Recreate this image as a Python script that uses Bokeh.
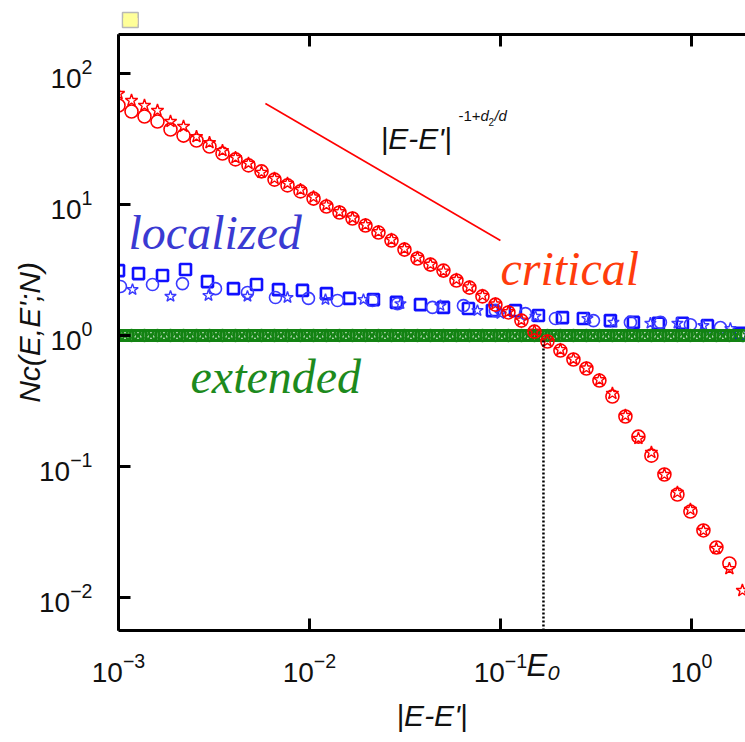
from bokeh.plotting import figure
from bokeh.models import LogAxis, Label, FixedTicker, Title
from bokeh.embed import file_html
from bokeh.resources import INLINE

# ---------------- data ----------------
# common x grid of the critical / extended series
grid_x = [0.001000, 0.001170, 0.001368, 0.001600, 0.001872, 0.002190, 0.002561, 0.002996,
          0.003504, 0.004099, 0.004794, 0.005608, 0.006559, 0.007672, 0.008974, 0.01050,
          0.01227, 0.01436, 0.01680, 0.01965, 0.02298, 0.02688, 0.03144, 0.03677,
          0.04301, 0.05031, 0.05884, 0.06883, 0.08051, 0.09414, 0.1101, 0.1288,
          0.1507, 0.1762, 0.2061, 0.2411, 0.2820, 0.3298, 0.3858, 0.4513,
          0.5279, 0.6174, 0.7222, 0.8448, 0.9881, 1.156, 1.352, 1.581, 1.849]

critical_circle_y = [57.0, 51.3, 47.0, 43.0, 37.4, 33.6, 30.8, 27.7, 24.5, 22.1, 19.9, 17.9,
                     15.5, 14.0, 12.6, 11.1, 9.66, 8.69, 7.82, 6.91, 6.11, 5.31, 4.53, 3.87,
                     3.48, 3.13, 2.63, 2.32, 1.99, 1.72, 1.50, 1.30, 1.07, 0.90, 0.768, 0.656,
                     0.560, 0.453, 0.342, 0.241, 0.169, 0.121, 0.0869, 0.0611, 0.0453, 0.0325,
                     0.0241, 0.0182]
critical_star_y = [70.3, 62.2, 57.0, 52.2, 43.0, 39.4, 33.0, 29.7, 25.8, 22.8, 20.6, 17.6,
                   15.8, 14.5, 13.0, 11.4, 9.9, 8.8, 7.9, 7.0, 6.2, 5.4, 4.6, 3.95,
                   3.5, 3.1, 2.68, 2.35, 2.02, 1.74, 1.52, 1.31, 1.08, 0.91, 0.78, 0.66,
                   0.565, 0.46, 0.361, 0.245, 0.164, 0.128, 0.0869, 0.0633, 0.0470, 0.0325,
                   0.0237, 0.0166, 0.0113]

# extended: squares sit half-way between the circle/star positions
ext_sq_x = [0.001082, 0.001265, 0.001479, 0.001730, 0.002024, 0.002368, 0.002770, 0.003240,
            0.003790, 0.004433, 0.005185, 0.006065, 0.007094, 0.008297, 0.009705, 0.01135,
            0.01327, 0.01553, 0.01817, 0.02125, 0.02485, 0.02907, 0.03400, 0.03977,
            0.04651, 0.05441, 0.06364, 0.07444, 0.08707, 0.1018, 0.1191, 0.1393,
            0.1630, 0.1906, 0.2229, 0.2608, 0.3050, 0.3567, 0.4173, 0.4881,
            0.5709, 0.6677, 0.7810, 0.9136, 1.069, 1.250, 1.462, 1.710]
ext_level = 1.0

# localized
loc_sq_x = [0.001000, 0.001273, 0.001700, 0.002243, 0.002924, 0.004000, 0.005280, 0.006883,
            0.009191, 0.01227, 0.01620, 0.02163, 0.02854, 0.03814, 0.05031, 0.06800,
            0.09081, 0.1198, 0.1581, 0.2112, 0.2720, 0.3766, 0.4969, 0.6717,
            0.8974, 1.213, 1.805]
loc_sq_y = [3.13, 2.97, 2.87, 3.19, 2.58, 2.28, 2.45, 2.24, 2.21, 2.09, 1.92, 1.88,
            1.79, 1.72, 1.64, 1.61, 1.55, 1.55, 1.42, 1.37, 1.35, 1.30, 1.26, 1.24,
            1.24, 1.19, 1.04]
loc_ci_x = [0.001024, 0.001507, 0.002163, 0.003220, 0.004735, 0.006637, 0.009880, 0.01402,
            0.02137, 0.02889, 0.04406, 0.06403, 0.09414, 0.1352, 0.1941, 0.3069,
            0.4793, 0.6882, 0.9881, 1.419]
loc_ci_y = [2.37, 2.45, 2.49, 2.28, 2.13, 1.95, 1.92, 1.85, 1.85, 1.75, 1.64, 1.69,
            1.55, 1.47, 1.35, 1.30, 1.26, 1.26, 1.21, 1.15]
loc_st_x = [0.001184, 0.001872, 0.002960, 0.004735, 0.007672, 0.01213, 0.01917, 0.02995,
            0.04852, 0.07580, 0.1000, 0.1525, 0.2854, 0.3905, 0.6100, 0.8448,
            1.156, 1.600]
loc_st_y = [2.24, 1.99, 2.02, 1.99, 1.95, 1.88, 1.88, 1.75, 1.69, 1.55, 1.47, 1.40,
            1.35, 1.26, 1.24, 1.24, 1.19, 1.13]

# guide power-law segment and E0 marker
E0 = 0.168
guide_x = [0.00588, 0.100]
guide_y = [59.0, 5.31]
e0_x = [E0, E0]
e0_y = [0.0056, 0.92]

e0_ticks = [E0]
e0_tick_labels = {E0: "E\u2080"}

X_RANGE = (1e-3, 1.92)
Y_RANGE = (0.0056, 198.6)

RED = "#ff0000"
BLUE = "#1010ff"
GREEN = "#138313"
SANS = "Liberation Sans"

p = figure(width=745, height=742, x_axis_type="log", y_axis_type="log",
           x_range=X_RANGE, y_range=Y_RANGE, output_backend="svg",
           toolbar_location=None, min_border_left=118, min_border_right=0,
           min_border_top=34, min_border_bottom=112)
p.outline_line_color = None
p.grid.visible = False
p.background_fill_color = "white"
p.border_fill_color = "white"

for ax in (p.xaxis[0], p.yaxis[0]):
    ax.axis_line_width = 3
    ax.major_tick_in = 12
    ax.major_tick_out = 0
    ax.major_tick_line_width = 3
    ax.minor_tick_line_color = None
    ax.major_label_text_font = SANS
    ax.major_label_text_font_size = "28px"
    ax.major_label_text_color = "#111111"
    ax.axis_label_text_font = SANS
    ax.axis_label_text_font_size = "30px"
    ax.axis_label_text_font_style = "italic"
    ax.axis_label_text_color = "#111111"

p.xaxis[0].major_label_standoff = 18
p.yaxis[0].axis_label = "Nc(E,E';N)"
p.yaxis[0].major_label_standoff = 22
p.yaxis[0].axis_label_standoff = -10

# second bottom axis: carries only the E0 label (pulled up beside the decade labels)
# and the axis title
e0_axis = LogAxis(ticker=FixedTicker(ticks=e0_ticks),
                  major_label_overrides=e0_tick_labels,
                  axis_line_color=None, major_tick_line_color=None,
                  minor_tick_line_color=None, major_tick_in=0, major_tick_out=0,
                  major_label_text_font=SANS, major_label_text_font_size="31px",
                  major_label_text_font_style="italic", major_label_text_color="#111111",
                  major_label_standoff=-37,
                  axis_label="|E-E'|", axis_label_text_font=SANS,
                  axis_label_text_font_size="30px", axis_label_text_font_style="italic",
                  axis_label_text_color="#111111", axis_label_standoff=13)
p.add_layout(e0_axis, "below")

top = LogAxis(axis_line_width=3, major_tick_in=12, major_tick_out=0,
              major_tick_line_width=3, minor_tick_line_color=None,
              major_label_text_font_size="2px", major_label_text_alpha=0,
              major_label_standoff=0)
p.add_layout(top, "above")

# small yellow box above the frame
p.add_layout(Title(text="\u25a0\u25a0", align="left", offset=4, text_font_size="13px",
                   text_color="#ffff99", background_fill_color="#ffff99",
                   border_line_color="#b8b8b8", border_line_width=1.5,
                   standoff=6), "above")

# localized (drawn first, under the band)
p.scatter(loc_sq_x, loc_sq_y, marker="square", size=11, line_width=2.6,
          line_color=BLUE, fill_color=None)
p.scatter(loc_ci_x, loc_ci_y, marker="circle", size=12, line_width=1.6,
          line_color="#3a3aff", fill_color=None)
p.scatter(loc_st_x, loc_st_y, marker="star", size=12, line_width=1.4,
          line_color="#3a3aff", fill_color=None)

# extended band
ext_y_grid = [ext_level] * len(grid_x)
ext_y_sq = [ext_level] * len(ext_sq_x)
p.scatter(ext_sq_x, ext_y_sq, marker="square", size=10, line_width=3,
          line_color=GREEN, fill_color=None)
p.scatter(grid_x, ext_y_grid, marker="circle", size=11, line_width=2.4,
          line_color=GREEN, fill_color=None)
p.scatter(grid_x, ext_y_grid, marker="star", size=11, line_width=1.2,
          line_color=GREEN, fill_color=None)

# critical
p.scatter(grid_x[:len(critical_circle_y)], critical_circle_y, marker="circle", size=13,
          line_width=1.6, line_color=RED, fill_color=None)
p.scatter(grid_x[:len(critical_star_y)], critical_star_y, marker="star", size=13,
          line_width=1.4, line_color=RED, fill_color=None)

# guide line and E0 dotted line
p.line(guide_x, guide_y, line_color=RED, line_width=1.6)
p.line(e0_x, e0_y, line_color="black", line_width=2.5, line_dash="2 2")

# text annotations
def lab(x, y, text, size, color="#111111", font=SANS, style="normal", **kw):
    p.add_layout(Label(x=x, y=y, text=text, text_font=font, text_font_size=size,
                       text_color=color, text_font_style=style,
                       text_baseline="alphabetic", **kw))

lab(0.001128, 6.11, "localized", "48px", "#3a3ad2", "Liberation Serif", "italic")
lab(0.100, 3.25, "critical", "48px", "#ff3c0c", "Liberation Serif", "italic")
lab(0.002383, 0.486, "extended", "48px", "#1d8a1d", "Liberation Serif", "italic")

lab(0.02355, 31.9, "|E-E'|", "30px", style="italic")
lab(0.06028, 47.8, "-1+", "15px")
lab(0.07857, 47.8, "d", "15px", style="italic")
lab(0.08655, 42.3, "2", "10px")
lab(0.09302, 47.8, "/d", "15px", style="italic")

open("out.html", "w").write(file_html(p, INLINE))
